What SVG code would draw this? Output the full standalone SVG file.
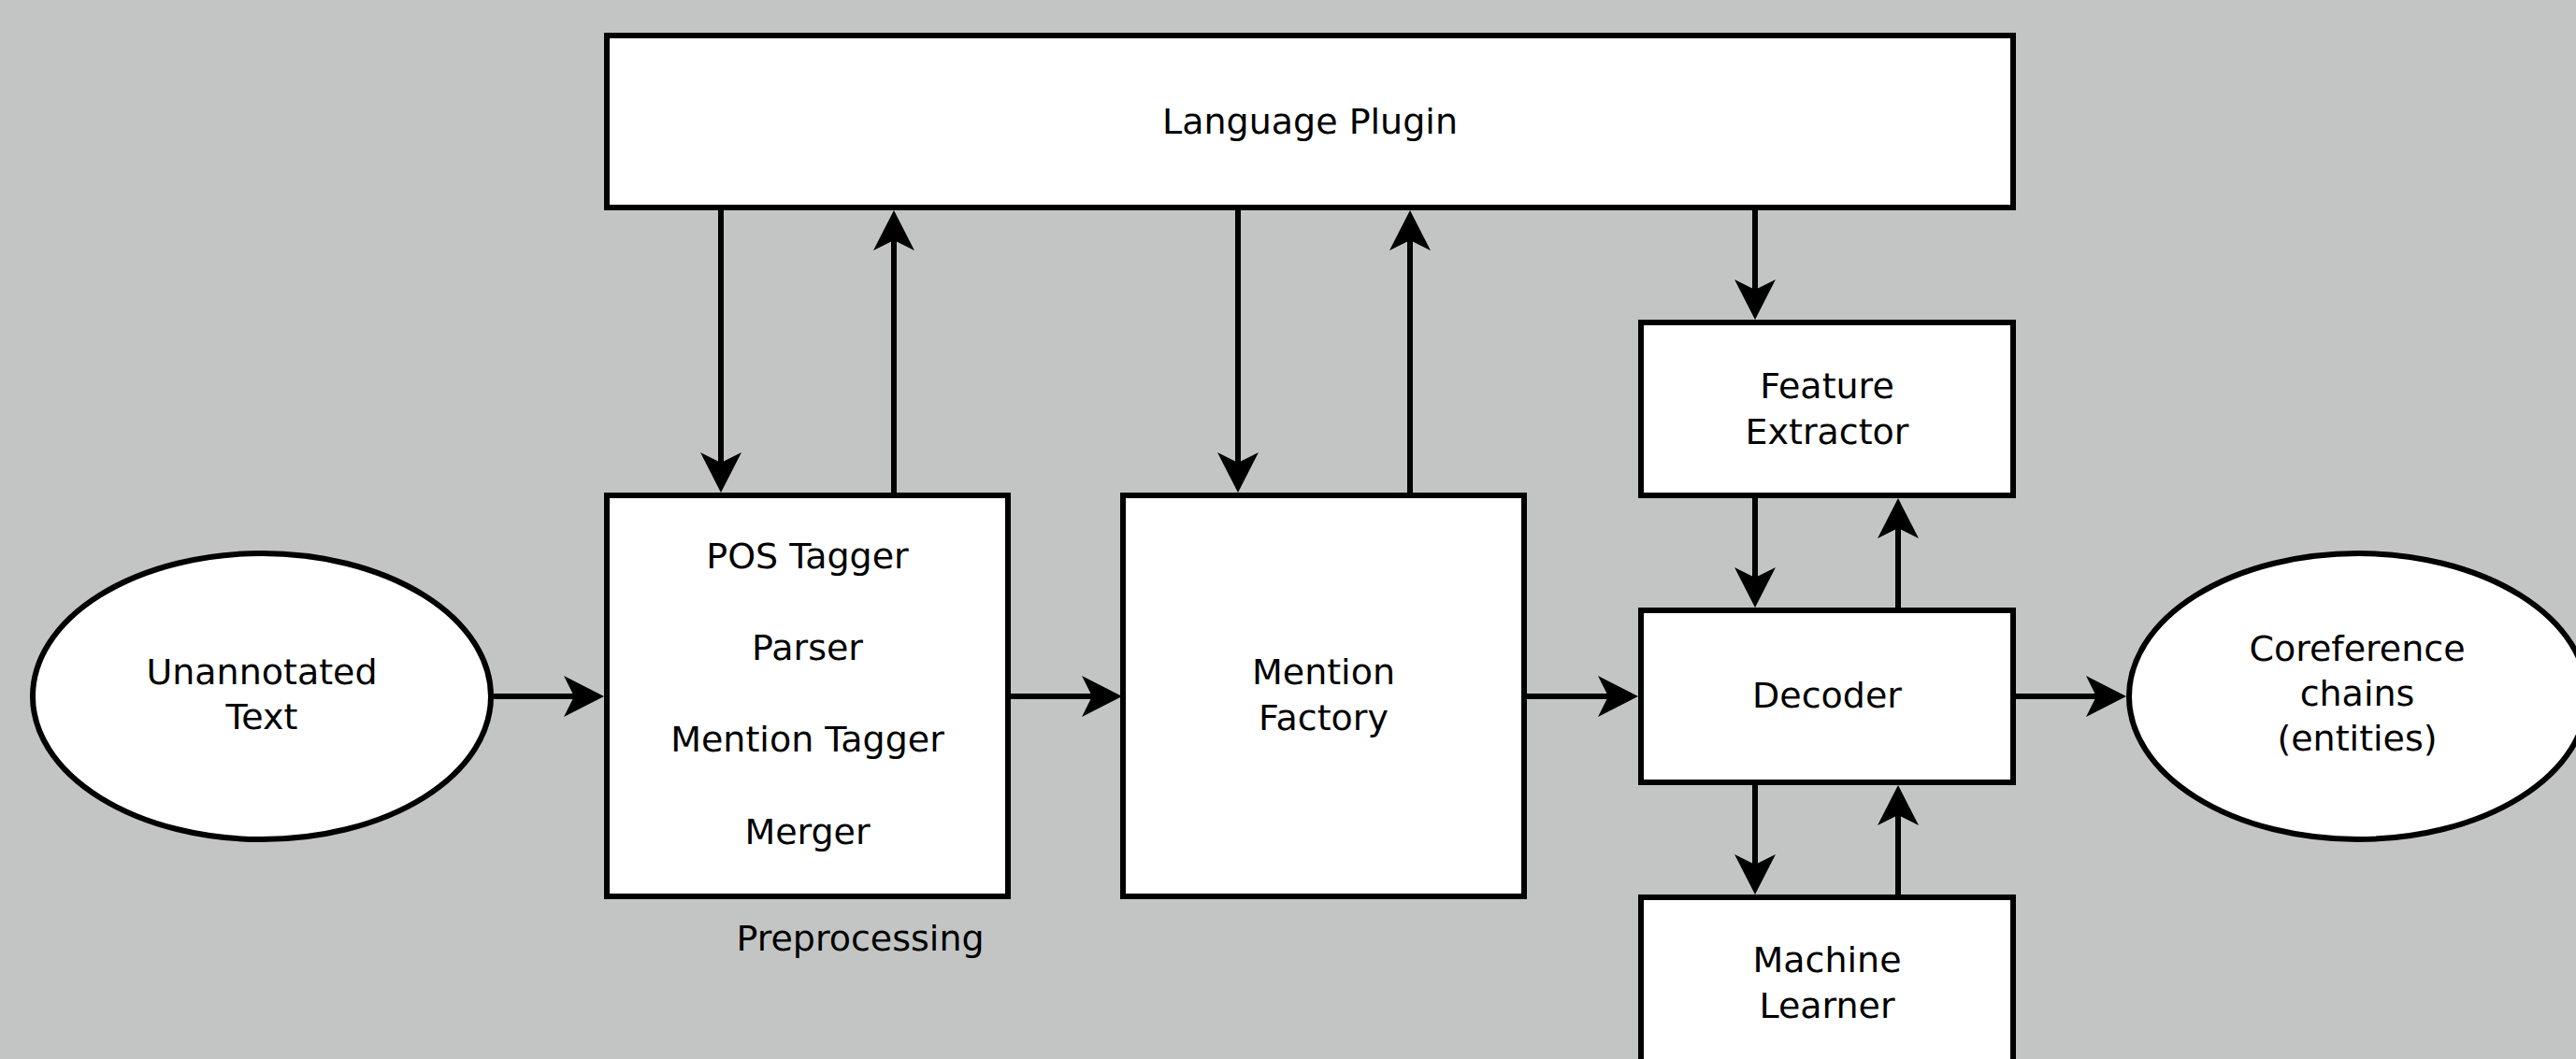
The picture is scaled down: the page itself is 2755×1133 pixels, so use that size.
<svg xmlns="http://www.w3.org/2000/svg" width="2755" height="1133" viewBox="0 0 2755 1133">
  <style>
    .box { fill: #ffffff; stroke: #000000; stroke-width: 6; }
    .lbl { font-family: "DejaVu Sans", "Liberation Sans", sans-serif; font-size: 38px; fill: #000000; text-anchor: middle; }
    .conn { fill: none; stroke: #000000; stroke-width: 6; marker-end: url(#arrow); }
  </style>
  <defs>
    <marker id="arrow" markerUnits="userSpaceOnUse" viewBox="-45 -24 48 48" refX="-30" refY="0" markerWidth="48" markerHeight="48" orient="auto">
      <path d="M0,0 L-43,-22 L-32,0 L-43,22 Z" fill="#000000"/>
    </marker>
  </defs>
  <rect x="0" y="0" width="2755" height="1133" fill="#c3c5c4"/>

  <g id="language-plugin">
    <rect class="box" x="649" y="38" width="1504" height="184"/>
    <text class="lbl" x="1401" y="143">Language Plugin</text>
  </g>
  <g id="unannotated-text">
    <ellipse class="box" cx="280" cy="745" rx="245" ry="153"/>
    <text class="lbl" x="280" y="732">Unannotated</text>
    <text class="lbl" x="280" y="780">Text</text>
  </g>
  <g id="preprocessing">
    <rect class="box" x="649" y="530" width="429" height="429"/>
    <text class="lbl" x="863.5" y="608">POS Tagger</text>
    <text class="lbl" x="863.5" y="706">Parser</text>
    <text class="lbl" x="863.5" y="804">Mention Tagger</text>
    <text class="lbl" x="863.5" y="903">Merger</text>
    <text class="lbl" x="920" y="1017">Preprocessing</text>
  </g>
  <g id="mention-factory">
    <rect class="box" x="1201" y="530" width="429" height="429"/>
    <text class="lbl" x="1415.5" y="732">Mention</text>
    <text class="lbl" x="1415.5" y="781">Factory</text>
  </g>
  <g id="feature-extractor">
    <rect class="box" x="1755" y="345" width="398" height="185"/>
    <text class="lbl" x="1954" y="426">Feature</text>
    <text class="lbl" x="1954" y="475">Extractor</text>
  </g>
  <g id="decoder">
    <rect class="box" x="1755" y="653" width="398" height="184"/>
    <text class="lbl" x="1954" y="757">Decoder</text>
  </g>
  <g id="machine-learner">
    <rect class="box" x="1755" y="960" width="398" height="185"/>
    <text class="lbl" x="1954" y="1040">Machine</text>
    <text class="lbl" x="1954" y="1089">Learner</text>
  </g>
  <g id="coreference-chains">
    <ellipse class="box" cx="2522" cy="745" rx="245" ry="153"/>
    <text class="lbl" x="2521" y="707">Coreference</text>
    <text class="lbl" x="2521" y="755">chains</text>
    <text class="lbl" x="2521" y="803">(entities)</text>
  </g>

  <g id="connectors">
    <path class="conn" d="M528,745 H616"/>
    <path class="conn" d="M1081,745 H1170"/>
    <path class="conn" d="M1633,745 H1722"/>
    <path class="conn" d="M2156,745 H2244"/>
    <path class="conn" d="M771,225 V497"/>
    <path class="conn" d="M956,527 V255"/>
    <path class="conn" d="M1324,225 V497"/>
    <path class="conn" d="M1508,527 V255"/>
    <path class="conn" d="M1877,225 V312"/>
    <path class="conn" d="M1877,533 V620"/>
    <path class="conn" d="M2030,650 V563"/>
    <path class="conn" d="M1877,840 V927"/>
    <path class="conn" d="M2030,957 V870"/>
  </g>
</svg>
